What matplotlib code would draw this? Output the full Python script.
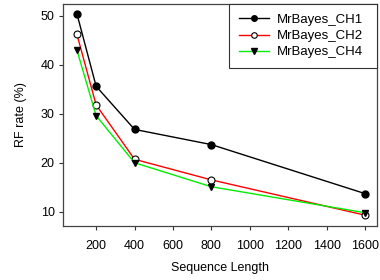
import matplotlib
matplotlib.use('Agg')
import matplotlib.pyplot as plt

plt.rcParams['font.family'] = ['Liberation Sans', 'DejaVu Sans']
plt.rcParams['font.size'] = 9

# Data
seq_len = [100, 200, 400, 800, 1600]
ch1 = [50.4, 35.6, 26.8, 23.7, 13.7]
ch2 = [46.2, 31.8, 20.7, 16.5, 9.3]
ch4 = [43.0, 29.6, 20.0, 15.1, 9.8]

fig = plt.figure(figsize=(3.8, 2.8), dpi=100)
ax = fig.add_axes([0.166, 0.193, 0.826, 0.793])

ax.plot(seq_len, ch1, color='black', lw=1.0, marker='o', ms=5,
        mfc='black', mec='black', label='MrBayes_CH1')
ax.plot(seq_len, ch2, color='red', lw=1.0, marker='o', ms=5,
        mfc='white', mec='black', mew=0.8, label='MrBayes_CH2')
ax.plot(seq_len, ch4, color='#00ee00', lw=1.0, marker='v', ms=5,
        mfc='black', mec='black', label='MrBayes_CH4')

ax.set_xlim(28, 1662)
ax.set_ylim(7.1, 52.4)
ax.set_xticks([200, 400, 600, 800, 1000, 1200, 1400, 1600])
ax.set_yticks([10, 20, 30, 40, 50])
ax.tick_params(direction='out', length=3, width=0.8, color='#333333', pad=3)
ax.tick_params(axis='x', pad=7)
for s in ax.spines.values():
    s.set_color('#444444')
    s.set_linewidth(0.9)

ax.set_xlabel('Sequence Length', labelpad=7)
ax.set_ylabel('RF rate (%)', labelpad=10)

# legend box spans the right part of the axes, text left-aligned with slack on the right
leg = ax.legend(loc='upper left', bbox_to_anchor=(0.529, 0, 0.471, 1.0),
                mode='expand', borderaxespad=0, fancybox=False,
                edgecolor='#333333', framealpha=1, handlelength=2.3,
                borderpad=0.75, labelspacing=0.3, handletextpad=0.6,
                fontsize=9.5, markerscale=0.8)
leg.get_frame().set_linewidth(0.8)

fig.savefig('out.png', dpi=100)
